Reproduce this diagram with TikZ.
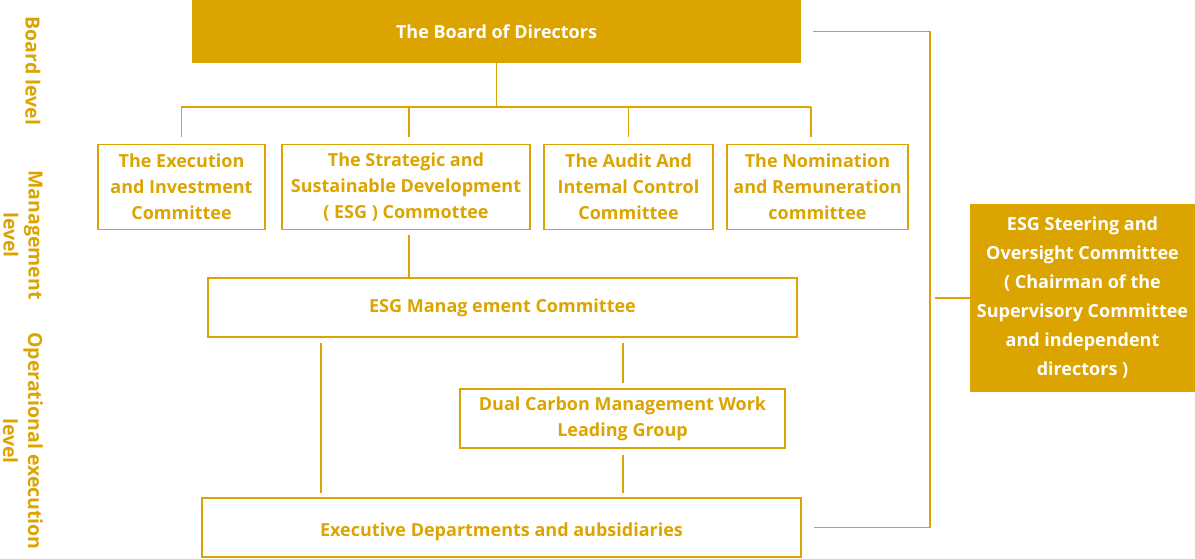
\documentclass[tikz,border=0pt]{standalone}
\usepackage{fontspec}
\setmainfont{Open Sans}
\definecolor{gold}{RGB}{220,164,0}
\begin{document}
\begin{tikzpicture}[x=1pt,y=-1pt,
  lbl/.style={font={\fontsize{18}{26}\selectfont\bfseries}},
  obox/.style={draw=gold,line width=1.3pt,text=gold,align=center,inner sep=0pt,lbl},
  fbox/.style={fill=gold,text=white,align=center,inner sep=0pt,lbl},
  conn/.style={draw=gold,line width=1.2pt},
  side/.style={text=gold,align=center,rotate=-90,inner sep=0pt,font={\fontsize{19.5}{25}\selectfont\bfseries}}]
\useasboundingbox (0,0) rectangle (1195,558);
% left level labels
\node[side] (lvB) at (33,71) {Board level};
\node[side] (lvM) at (23,235) {Management\\level};
\node[side] (lvO) at (23,441) {Operational execution\\level};
% board
\node[fbox,minimum width=609pt,minimum height=63pt] (board) at (496.5,31.5) {The Board of Directors};
% committees
\node[obox,minimum width=167pt,minimum height=85pt] (c1) at (181.5,186.7) {The Execution\\and Investment\\Committee};
\node[obox,minimum width=248pt,minimum height=85pt] (c2) at (406,186.7) {The Strategic and\\Sustainable Development\\( ESG ) Commottee};
\node[obox,minimum width=169pt,minimum height=85pt] (c3) at (628.5,186.7) {The Audit And\\Intemal Control\\Committee};
\node[obox,minimum width=181pt,minimum height=85pt] (c4) at (817.5,186.7) {The Nomination\\and Remuneration\\committee};
% management
\node[obox,minimum width=589pt,minimum height=59pt] (mgmt) at (502.5,307.6) {ESG Manag ement Committee};
\node[obox,minimum width=325pt,minimum height=59pt] (dual) at (622.5,418.6) {Dual Carbon Management Work\\Leading Group};
\node[obox,minimum width=599pt,minimum height=59pt,text height=17.8pt,text depth=0pt] (exec) at (501.5,527.6) {Executive Departments and aubsidiaries};
% steering
\node[fbox,minimum width=225pt,minimum height=188pt,font={\fontsize{18}{29}\selectfont\bfseries}] (esg) at (1082.5,298) {ESG Steering and\\Oversight Committee\\( Chairman of the\\Supervisory Committee\\and independent\\directors )};
% connectors
\coordinate (bar) at (496.5,107);
\coordinate (brk) at (930,298);
\draw[conn] (board.south) -- (bar);
\draw[conn] (181,107) -- (811,107);
\draw[conn] (c1.north |- bar) -- ++(0,30);
\draw[conn] (409,107) -- (409,137);
\draw[conn] (c3.north |- bar) -- ++(0,30);
\draw[conn] (811,107) -- (811,137);
\draw[conn] (409,235) -- (409,277);
\draw[conn] (321,343) -- (321,493);
\draw[conn] (623,343) -- (623,383);
\draw[conn] (623,455) -- (623,493);
\draw[conn,shorten <=12pt,shorten >=12pt] (board.east) -| (brk) |- (exec.east);
\draw[conn] (esg.west) -- ++(-35,0);
\end{tikzpicture}
\end{document}
